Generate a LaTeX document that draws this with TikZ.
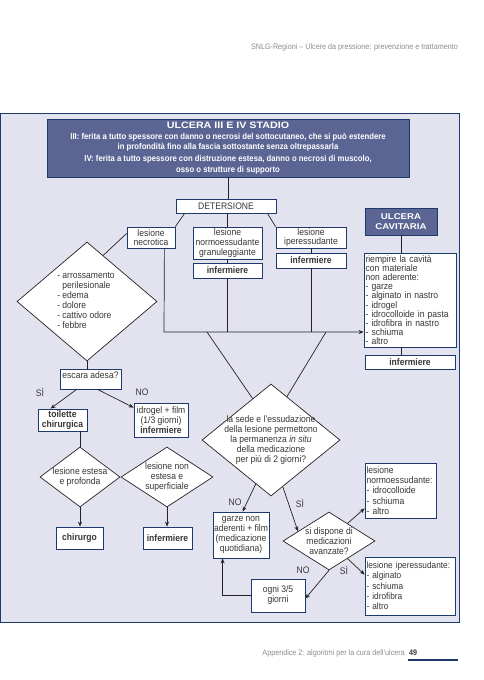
\documentclass[tikz,border=0pt]{standalone}
\usepackage{fontspec}
\setmainfont{Liberation Sans}[FakeStretch=0.9]
\newfontfamily\titlefont{Liberation Sans}[FakeStretch=1.15]
\usetikzlibrary{shapes.geometric,arrows.meta,calc}
\definecolor{panelbg}{RGB}{227,227,239}
\definecolor{navy}{RGB}{30,58,108}
\definecolor{hdrfill}{RGB}{90,101,148}
\definecolor{txt}{RGB}{55,55,55}
\definecolor{ln}{RGB}{35,35,35}
\definecolor{pagegray}{RGB}{140,140,140}
\newcommand{\fsbody}{\fontsize{9.5}{10}\selectfont}
\newcommand{\nohyph}{\hyphenpenalty=10000\relax}
\tikzset{
  box/.style={draw=navy, line width=0.8pt, fill=white, inner sep=1pt, align=center, font=\fsbody, text=txt},
  lbox/.style={box, align=left, inner xsep=1.5pt},
  bbox/.style={box, font=\fsbody\bfseries},
  sz/.style 2 args={minimum width=#1, minimum height=#2},
  dia/.style={diamond, draw=ln, line width=0.7pt, fill=white, inner sep=0pt},
  dtext/.style={font=\fsbody, text=txt, align=center, inner sep=0pt},
  conn/.style={draw=ln, line width=0.7pt},
  arr/.style={conn, -{Stealth[length=5pt,width=4pt]}},
  lab/.style={font=\fsbody, text=txt, inner sep=0pt},
  pagetext/.style={font=\fontsize{8}{9}\selectfont, text=pagegray, inner sep=0pt},
}
\begin{document}
\begin{tikzpicture}[x=1pt,y=-1pt]
\useasboundingbox (0,0) rectangle (484,680);
% page header / footer
\node[pagetext, anchor=base east] (pghead) at (458,49) {SNLG-Regioni -- Ulcere da pressione: prevenzione e trattamento};
\node[pagetext, anchor=base east] (pgfoot) at (405,655) {Appendice 2: algoritmi per la cura dell'ulcera};
\node[pagetext, anchor=base west, text=txt, font=\bfseries\fontsize{8}{9}\selectfont] (pgnum) at (409,655) {49};
\draw[navy, line width=1.5pt] (408,660) -- (458,660);
% panel
\draw[navy, fill=panelbg, line width=0.9pt] (0.5,113) rectangle (459,622);

% header
\node[box, sz={362pt}{58pt}, fill=hdrfill, text=white, font=\bfseries\fontsize{8.6}{10.6}\selectfont] (hdr) at (228,148)
 {{\titlefont\fontsize{9.3}{11.5}\selectfont ULCERA III E IV STADIO}\\
  III: ferita a tutto spessore con danno o necrosi del sottocutaneo, che si può estendere\\
  in profondità fino alla fascia sottostante senza oltrepassarla\\[1pt]
  IV: ferita a tutto spessore con distruzione estesa, danno o necrosi di muscolo,\\
  osso o strutture di supporto};

\node[box, sz={100pt}{14pt}] (det) at (226,206) {DETERSIONE};
\node[box, sz={48pt}{21pt}, font=\fontsize{9.5}{9.6}\selectfont] (necr) at (151,237.5) {lesione\\necrotica};
\node[box, sz={69pt}{32pt}, font=\fontsize{9.5}{9.6}\selectfont] (norm) at (227.5,243) {lesione\\normoessudante\\granuleggiante};
\node[bbox, sz={69pt}{15pt}] (norminf) at (227.5,270.5) {infermiere};
\node[box, sz={70pt}{21pt}, font=\fontsize{9.5}{9.6}\selectfont] (iper) at (311,237.5) {lesione\\iperessudante};
\node[bbox, sz={70pt}{15pt}] (iperinf) at (311,260.5) {infermiere};

% right column
\node[box, sz={72pt}{27pt}, fill=hdrfill, text=white, font=\titlefont\bfseries\fontsize{8.4}{10}\selectfont] (cav) at (401,221.5) {ULCERA\\CAVITARIA};
\node[lbox, text width=89pt, minimum height=94pt, font=\fontsize{9.5}{9.1}\selectfont\nohyph] (riemp) at (410,300)
 {riempire la cavità\\con materiale\\non aderente:\\- garze\\- alginato in nastro\\- idrogel\\- idrocolloide in pasta\\- idrofibra in nastro\\- schiuma\\- altro};
\node[bbox, sz={90pt}{14pt}] (rinf) at (410,362) {infermiere};

% left diamond
\node[dia, sz={140pt}{119pt}] (dA) at (87,301.5) {};
\node[dtext, align=left] (dAt) at (86,300) {- arrossamento\\\phantom{- }perilesionale\\- edema\\- dolore\\- cattivo odore\\- febbre};

\node[box, sz={61pt}{20pt}] (esc) at (90.5,379) {\raisebox{4pt}[\height][\depth]{escara adesa?}};
\node[bbox, sz={49pt}{22pt}, font=\fsbody\bfseries\fontsize{9.5}{9.6}\selectfont] (toil) at (62.5,420) {toilette\\chirurgica};
\node[box, sz={54pt}{34pt}, font=\fontsize{9.5}{9.6}\selectfont] (idro) at (161,420) {idrogel + film\\(1/3 giorni)\\\textbf{infermiere}};

\node[dia, sz={80pt}{60pt}] (dC) at (80,477) {};
\node[dtext] (dCt) at (80,477) {lesione estesa\\e profonda};
\node[dia, sz={92pt}{60pt}] (dD) at (167,477) {};
\node[dtext] (dDt) at (167,477) {lesione non\\estesa e\\superficiale};
\node[bbox, sz={47pt}{22pt}] (chir) at (79.5,538) {chirurgo};
\node[bbox, sz={49pt}{22pt}] (inf2) at (167.5,538) {infermiere};

% big diamond
\node[dia, sz={138pt}{112pt}] (dB) at (271,440) {};
\node[dtext] (dBt) at (271,440) {la sede e l'essudazione\\della lesione permettono\\la permanenza \textit{in situ}\\della medicazione\\per più di 2 giorni?};

\node[box, sz={56pt}{46pt}] (garze) at (241,535) {garze non\\aderenti + film\\(medicazione\\quotidiana)};
\node[dia, sz={92pt}{58pt}] (dE) at (329,541) {};
\node[dtext] (dEt) at (329,541) {si dispone di\\medicazioni\\avanzate?};
\node[box, sz={54pt}{33pt}] (ogni) at (278,595.5) {ogni 3/5\\giorni};
\node[lbox, text width=68pt, minimum height=55pt, font=\fontsize{9.5}{10.4}\selectfont\nohyph] (nbox) at (400.5,490.5)
 {lesione\\normoessudante:\\- idrocolloide\\- schiuma\\- altro};
\node[lbox, text width=87pt, minimum height=58pt, font=\fontsize{9.2}{10.3}\selectfont\nohyph] (ibox) at (410,586)
 {lesione iperessudante:\\- alginato\\- schiuma\\- idrofibra\\- altro};

% labels
\node[lab] (l1) at (40,392) {SÌ};
\node[lab] (l2) at (142,392) {NO};
\node[lab] (l3) at (235,502) {NO};
\node[lab] (l4) at (300,503) {SÌ};
\node[lab] (l5) at (303,570) {NO};
\node[lab] (l6) at (344,570) {SÌ};

% connectors
\coordinate (bus) at (164,332);
\draw[conn] (hdr.south) -- (hdr.south |- det.north);
\draw[conn] ($(det.south west)+(9,0)$) -- (necr.north east);
\draw[conn] (norm.north |- det.south) -- (norm.north);
\draw[conn] ($(det.south east)+(-9,0)$) -- (iper.north west);
\draw[conn] (norm.south) -- (norminf.north);
\draw[conn] (iper.south) -- (iperinf.north);
\draw[conn] ($(necr.west)+(0,-4)$) -- ($(dA.north)!0.23!(dA.east)$);
\draw[arr] ($(necr.south east)+(-11,0)$) -- (bus) -- (bus -| riemp.west);
\draw[conn] (norminf.south) -- (norminf.south |- bus);
\draw[conn] (iperinf.south) -- (iperinf.south |- bus);
\draw[conn] ($(bus)+(43,0)$) -- ($(dB.north)!0.265!(dB.west)$);
\draw[conn] ($(bus)+(162,0)$) -- ($(dB.north)!0.23!(dB.east)$);
\draw[conn] (cav.south) -- (cav.south |- riemp.north);
\draw[conn] (cav.south |- riemp.south) -- (cav.south |- rinf.north);

\draw[conn] (dA.south) -- (dA.south |- esc.north);
\draw[arr] ($(esc.south west)+(17,0)$) -- ($(toil.north west)+(13,0)$);
\draw[arr] ($(esc.south west)+(38,0)$) -- ($(idro.north west)+(0,5)$);
\draw[conn] (dC.north |- toil.south) -- (dC.north);
\draw[arr] (dC.south) -- (dC.south |- chir.north);
\draw[arr] (dD.south) -- (dD.south |- inf2.north);

\draw[arr] ($(dB.west)!0.78!(dB.south)$) -- ($(garze.north west)+(30,0)$);
\draw[arr] ($(dB.south)!0.17!(dB.east)$) -- ($(dE.west)!0.33!(dE.north)$);
\draw[arr] ($(dE.north)!0.4!(dE.east)$) -- ($(nbox.south west)+(0,-10)$);
\draw[arr] ($(dE.east)!0.6!(dE.south)$) -- ($(ibox.north west)+(0,18)$);
\draw[arr] (dE.south) -- ($(ogni.east)+(0,3)$);
\draw[arr] (ogni.west) -- ($(ogni.west -| garze.south west)+(10,0)$) -- ($(garze.south west)+(10,0)$);
\end{tikzpicture}
\end{document}
